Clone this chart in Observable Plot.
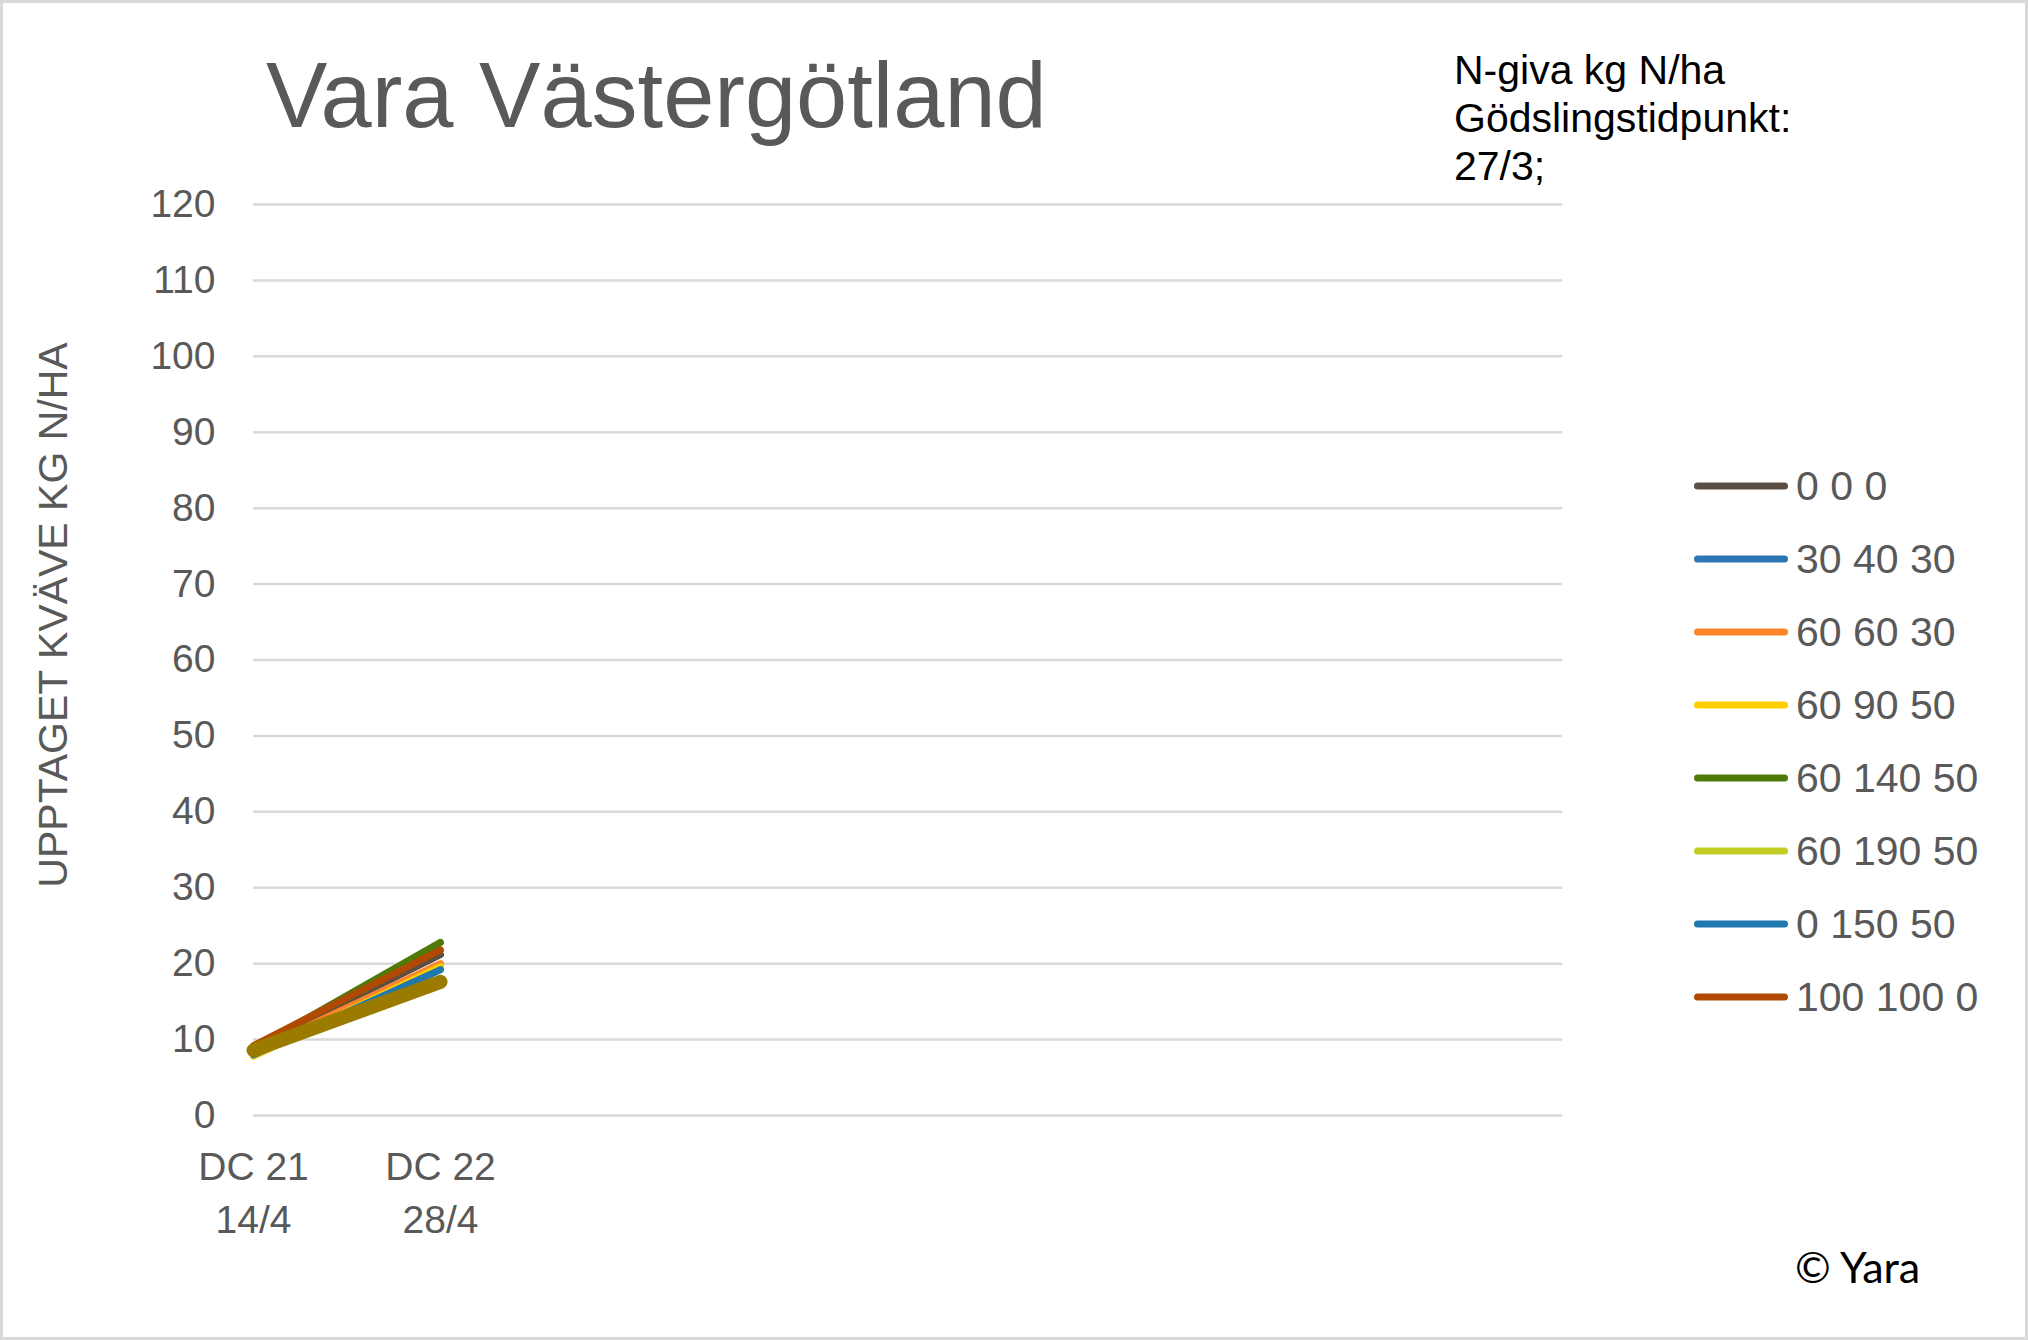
<!DOCTYPE html>
<html>
<head>
<meta charset="utf-8">
<script src="https://cdn.jsdelivr.net/npm/d3@7"></script>
<script src="https://cdn.jsdelivr.net/npm/@observablehq/plot@0.6"></script>
<style>
  html, body { margin: 0; padding: 0; background: #fff; }
  #chart { position: relative; width: 2028px; height: 1340px; overflow: hidden; background: #fff;
           font-family: "Liberation Sans", Arial, sans-serif; }
  #chart > svg { position: absolute; left: 0; top: 0; }
  .frame { position: absolute; left: 0; top: 0; width: 2028px; height: 1340px; box-sizing: border-box;
           border: 3px solid #d9d9d9; pointer-events: none; }
  .title { position: absolute; left: 266px; top: 49px; font-size: 92px; line-height: 1; color: #595959; white-space: nowrap; }
  .note { position: absolute; left: 1454px; top: 46px; font-size: 41px; line-height: 48px; color: #000; white-space: nowrap; }
  .ytitle { position: absolute; left: 53px; top: 615px; font-size: 41px; line-height: 1; color: #595959; white-space: nowrap;
            transform: translate(-50%, -50%) rotate(-90deg); }
  .legend-row { position: absolute; left: 1693px; height: 50px; display: flex; align-items: center; white-space: nowrap;
                font-size: 41px; color: #595959; }
  .legend-row svg { display: block; margin-right: 7px; }
  .copy { position: absolute; left: 1795px; top: 1245px; font-family: Lato, "Open Sans", sans-serif; font-size: 43px;
          line-height: 1; color: #000; white-space: nowrap; }
</style>
</head>
<body>
<div id="chart"></div>
<script>
// ---- data ----
const titleText = "Vara Västergötland";
const noteLines = ["N-giva kg N/ha", "Gödslingstidpunkt:", "27/3;"];
const yTitle = "UPPTAGET KVÄVE KG N/HA";
const copyright = "© Yara";

const stageLabels = ["DC 21\n14/4", "DC 22\n28/4", "", "", "", "", "", ""];
const yTicks = [0, 10, 20, 30, 40, 50, 60, 70, 80, 90, 100, 110, 120];

const seriesNames = ["0 0 0", "30 40 30", "60 60 30", "60 90 50", "60 140 50", "60 190 50", "0 150 50", "100 100 0"];
const seriesColors = ["#5a4e45", "#2e75b6", "#ff8427", "#ffcf00", "#4f7a08", "#c3cc24", "#1f78b0", "#b04a02"];
const valuesDC21 = [8.9, 7.9, 8.4, 7.8, 8.8, 8.1, 8.0, 9.2];
const valuesDC22 = [21.2, 19.4, 20.0, 19.6, 22.8, 17.7, 19.2, 21.8];

// unlabelled extra series (not in legend)
const extraName = "serie 9";
const extraColor = "#9a7b00";
const extraValues = [8.6, 17.6];

// ---- build tables ----
const stageIdx = stageLabels.map((_, i) => i);
const rows = seriesNames.flatMap((s, i) => [
  {series: s, stage: 0, value: valuesDC21[i]},
  {series: s, stage: 1, value: valuesDC22[i]}
]);
const extraRows = extraValues.map((v, i) => ({series: extraName, stage: i, value: v}));

const plot = Plot.plot({
  width: 2028,
  height: 1340,
  marginLeft: 253,
  marginRight: 466,
  marginTop: 204,
  marginBottom: 225,
  style: {background: "transparent", fontFamily: "'Liberation Sans', Arial, sans-serif", fontSize: "39px", color: "#595959", overflow: "visible"},
  x: {type: "point", domain: stageIdx, padding: 0},
  y: {domain: [0, 120]},
  color: {domain: seriesNames, range: seriesColors},
  marks: [
    Plot.ruleY(yTicks, {stroke: "#d9d9d9", strokeWidth: 2.5}),
    Plot.axisY({ticks: yTicks, tickSize: 0, tickPadding: 38, fontSize: 39, fill: "#595959", label: null}),
    Plot.axisX({ticks: stageIdx, tickSize: 0, tickPadding: 27, fontSize: 39, fill: "#595959", label: null,
                lineHeight: 1.36, tickFormat: i => stageLabels[i]}),
    Plot.line(rows, {x: "stage", y: "value", z: "series", stroke: "series", strokeWidth: 7,
                     strokeLinecap: "round", strokeLinejoin: "round"}),
    Plot.line(extraRows, {x: "stage", y: "value", stroke: extraColor, strokeWidth: 14,
                          strokeLinecap: "round", strokeLinejoin: "round"})
  ]
});

const chart = document.getElementById("chart");
chart.appendChild(plot);

function addDiv(cls, html, style) {
  const d = document.createElement("div");
  d.className = cls;
  d.innerHTML = html;
  if (style) Object.assign(d.style, style);
  chart.appendChild(d);
  return d;
}
addDiv("title", titleText);
addDiv("note", noteLines.join("<br>"));
addDiv("ytitle", yTitle);
addDiv("copy", copyright);

const legendY = [486, 559, 632, 705, 778, 851, 924, 997];
seriesNames.forEach((s, i) => {
  const row = addDiv("legend-row", "", {top: (legendY[i] - 25) + "px"});
  const svg = d3.create("svg").attr("width", 96).attr("height", 12);
  svg.append("line").attr("x1", 4.5).attr("x2", 91.5).attr("y1", 6).attr("y2", 6)
    .attr("stroke", seriesColors[i]).attr("stroke-width", 7).attr("stroke-linecap", "round");
  row.appendChild(svg.node());
  const t = document.createElement("span");
  t.textContent = s;
  row.appendChild(t);
});
addDiv("frame", "");
</script>
</body>
</html>
